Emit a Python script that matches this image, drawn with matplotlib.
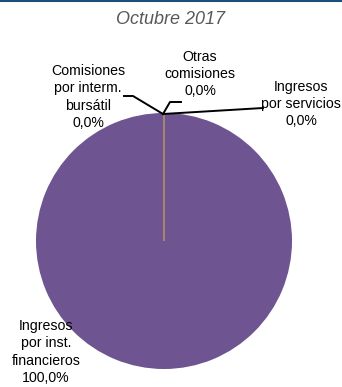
import matplotlib
matplotlib.use("Agg")
import matplotlib.pyplot as plt
from matplotlib.lines import Line2D

plt.rcParams['font.family'] = ['Liberation Sans Narrow', 'Liberation Sans', 'DejaVu Sans']

categorias = ["Comisiones\npor interm.\nbursátil", "Otras\ncomisiones",
              "Ingresos\npor servicios", "Ingresos\npor inst.\nfinancieros"]
valores = [0.0, 0.0, 0.0, 100.0]
etiquetas = ["0,0%", "0,0%", "0,0%", "100,0%"]
titulo = "Octubre 2017"

W, H = 342, 387
cx, cy, R = 164, 241, 128  # centro y radio del pastel en pixeles

fig = plt.figure(figsize=(W / 100, H / 100), dpi=100)
ax = fig.add_axes([0, 0, 1, 1])
ax.axis('off')

def px(x, y):
    return ((x - cx) / R, (cy - y) / R)

colores = ["#6E5490", "#6E5490", "#6E5490", "#6E5490"]
wedges, _ = ax.pie(valores, colors=colores, startangle=90, counterclock=False,
                   radius=1, center=(0, 0), normalize=True)
for w, v in zip(wedges, valores):
    if v == 0:
        w.set_edgecolor("#A8876A")
        w.set_linewidth(1.3)
        w.set_zorder(5)
    else:
        w.set_edgecolor("none")
ax.set_aspect('auto')
ax.set_xlim(-cx / R, (W - cx) / R)
ax.set_ylim((cy - H) / R, cy / R)

# titulo
ax.text(*px(171, 20), titulo, ha='center', va='center', fontsize=13,
        style='italic', color='#595959')

# lineas guia
top = (163, 114)
guias = [[top, (133, 96), (124, 96)],
         [top, (170, 102), (181, 102)],
         [top, (263, 108)]]
for g in guias:
    pts = [px(*p) for p in g]
    ax.plot([p[0] for p in pts], [p[1] for p in pts], color='black', lw=1.4, zorder=6)

pos = [(88, 97), (200, 74), (301, 104), (46, 352)]
for (x, y), c, e in zip(pos, categorias, etiquetas):
    ax.text(*px(x, y), c + "\n" + e, ha='center', va='center', fontsize=10.2,
            color='black', linespacing=1.28)

# borde superior
fig.add_artist(Line2D([0, 1], [0.998, 0.998], transform=fig.transFigure,
                      color='#1F4E79', lw=1.5))

fig.savefig("out.png", dpi=100)
